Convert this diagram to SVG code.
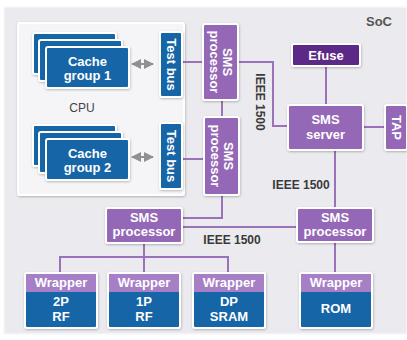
<svg xmlns="http://www.w3.org/2000/svg" width="407" height="340" viewBox="0 0 407 340">
<defs>
<filter id="sh" x="-20%" y="-20%" width="140%" height="140%">
<feDropShadow dx="0.5" dy="1" stdDeviation="1.2" flood-color="#000" flood-opacity="0.25"/>
</filter>
<marker id="ah" viewBox="0 0 10 10" refX="9" refY="5" markerWidth="5" markerHeight="5" orient="auto-start-reverse">
<path d="M0,0 L10,5 L0,10 Z" fill="#8f8f96"/>
</marker>
</defs>
<style>
.blue{fill:#1565a6;stroke:#fff;stroke-width:2}
.sms{fill:#9468b6;stroke:#fff;stroke-width:2}
.dark{fill:#5b2a86;stroke:#fff;stroke-width:2}
.wh{fill:#a67fc6}
.t{font-family:"Liberation Sans",Arial,sans-serif;font-weight:bold;font-size:13px;fill:#fff;text-anchor:middle}
.lbl{font-family:"Liberation Sans",Arial,sans-serif;font-weight:bold;font-size:12px;fill:#3a3a3a;text-anchor:middle}
.ln{fill:none;stroke:#9a72b8;stroke-width:2}
.ar{fill:none;stroke:#8f8f96;stroke-width:2}
</style>
<rect width="407" height="340" fill="#ffffff"/>
<g id="soc">
<rect x="4" y="7" width="403" height="327" fill="#ebeaef" stroke="#f7f7f9" stroke-width="1.5"/>
<text x="379" y="26" font-family="'Liberation Sans',Arial,sans-serif" font-weight="bold" font-size="13" fill="#555" text-anchor="middle">SoC</text>
</g>
<g id="cpu">
<rect x="18" y="23" width="166" height="172" rx="2" fill="#f5f5f7" stroke="#fff" stroke-width="2" filter="url(#sh)"/>
<text x="82" y="112" font-family="'Liberation Sans',Arial,sans-serif" font-size="12" fill="#444" text-anchor="middle">CPU</text>
</g>
<g id="connectors">
<line class="ar" x1="132" y1="64" x2="153" y2="64" marker-start="url(#ah)" marker-end="url(#ah)"/>
<line class="ar" x1="132" y1="157" x2="153" y2="157" marker-start="url(#ah)" marker-end="url(#ah)"/>
<line class="ln" x1="183" y1="62" x2="203" y2="62"/>
<line class="ln" x1="183" y1="159" x2="203" y2="159"/>
<line class="ln" x1="222" y1="100" x2="222" y2="117"/>
<polyline class="ln" points="238,62 273,62 273,126 288,126"/>
<line class="ln" x1="326" y1="66" x2="326" y2="105"/>
<line class="ln" x1="363" y1="127" x2="385" y2="127"/>
<line class="ln" x1="335" y1="150" x2="335" y2="208"/>
<polyline class="ln" points="222,195 222,218 182,218"/>
<line class="ln" x1="182" y1="227" x2="297" y2="227"/>
<line class="ln" x1="144" y1="243" x2="144" y2="273"/>
<polyline class="ln" points="60,273 60,257 228,257 228,273"/>
<line class="ln" x1="335" y1="242" x2="335" y2="273"/>
</g>
<g id="cache1">
<rect class="blue" x="33" y="33" width="83" height="41" rx="2" filter="url(#sh)"/>
<rect class="blue" x="39" y="40" width="83" height="41" rx="2" filter="url(#sh)"/>
<rect class="blue" x="46" y="47" width="83" height="41" rx="2" filter="url(#sh)"/>
<text class="t" x="87.5" y="66">Cache</text>
<text class="t" x="87.5" y="80">group 1</text>
</g>
<g id="cache2">
<rect class="blue" x="33" y="125" width="83" height="41" rx="2" filter="url(#sh)"/>
<rect class="blue" x="39" y="132" width="83" height="41" rx="2" filter="url(#sh)"/>
<rect class="blue" x="46" y="139" width="83" height="41" rx="2" filter="url(#sh)"/>
<text class="t" x="87.5" y="158">Cache</text>
<text class="t" x="87.5" y="172">group 2</text>
</g>
<g id="testbus1">
<rect class="blue" x="160" y="32" width="22" height="65" rx="2" filter="url(#sh)"/>
<text class="t" transform="translate(171,64.5) rotate(90)" y="4.5">Test bus</text>
</g>
<g id="testbus2">
<rect class="blue" x="160" y="123" width="22" height="66" rx="2" filter="url(#sh)"/>
<text class="t" transform="translate(171,156) rotate(90)" y="4.5">Test bus</text>
</g>
<g id="smsproc1">
<rect class="sms" x="203" y="24" width="35" height="76" rx="2" filter="url(#sh)"/>
<text class="t" transform="translate(220.5,62) rotate(90)" y="-2">SMS</text>
<text class="t" transform="translate(220.5,62) rotate(90)" y="11">processor</text>
</g>
<g id="smsproc2">
<rect class="sms" x="204" y="117" width="35" height="78" rx="2" filter="url(#sh)"/>
<text class="t" transform="translate(221.5,156) rotate(90)" y="-2">SMS</text>
<text class="t" transform="translate(221.5,156) rotate(90)" y="11">processor</text>
</g>
<text class="lbl" transform="translate(260,102) rotate(90)" y="4">IEEE 1500</text>
<g id="efuse">
<rect class="dark" x="292" y="44" width="68" height="22" rx="2" filter="url(#sh)"/>
<text class="t" x="326" y="60">Efuse</text>
</g>
<g id="smsserver">
<rect class="sms" x="288" y="105" width="75" height="45" rx="2" filter="url(#sh)"/>
<text class="t" x="325.5" y="124">SMS</text>
<text class="t" x="325.5" y="139">server</text>
</g>
<g id="tap">
<rect class="sms" x="385" y="105" width="22" height="45" rx="2" filter="url(#sh)"/>
<text class="t" transform="translate(396,127.5) rotate(90)" y="4.5">TAP</text>
</g>
<text class="lbl" x="301" y="189">IEEE 1500</text>
<text class="lbl" x="232" y="244">IEEE 1500</text>
<g id="smsproc3">
<rect class="sms" x="106" y="208" width="76" height="35" rx="2" filter="url(#sh)"/>
<text class="t" x="144" y="222">SMS</text>
<text class="t" x="144" y="236">processor</text>
</g>
<g id="smsproc4">
<rect class="sms" x="297" y="208" width="76" height="34" rx="2" filter="url(#sh)"/>
<text class="t" x="335" y="222">SMS</text>
<text class="t" x="335" y="236">processor</text>
</g>
<g id="wrap2p">
<rect x="25" y="273" width="72" height="55" rx="2" fill="#1565a6" stroke="#fff" stroke-width="2" filter="url(#sh)"/>
<rect class="wh" x="26" y="274" width="70" height="18"/>
<text class="t" x="61" y="287">Wrapper</text>
<text class="t" x="61" y="306">2P</text>
<text class="t" x="61" y="321">RF</text>
</g>
<g id="wrap1p">
<rect x="108" y="273" width="72" height="55" rx="2" fill="#1565a6" stroke="#fff" stroke-width="2" filter="url(#sh)"/>
<rect class="wh" x="109" y="274" width="70" height="18"/>
<text class="t" x="144" y="287">Wrapper</text>
<text class="t" x="144" y="306">1P</text>
<text class="t" x="144" y="321">RF</text>
</g>
<g id="wrapdp">
<rect x="193" y="273" width="72" height="55" rx="2" fill="#1565a6" stroke="#fff" stroke-width="2" filter="url(#sh)"/>
<rect class="wh" x="194" y="274" width="70" height="18"/>
<text class="t" x="229" y="287">Wrapper</text>
<text class="t" x="229" y="306">DP</text>
<text class="t" x="229" y="321">SRAM</text>
</g>
<g id="wraprom">
<rect x="300" y="273" width="72" height="55" rx="2" fill="#1565a6" stroke="#fff" stroke-width="2" filter="url(#sh)"/>
<rect class="wh" x="301" y="274" width="70" height="18"/>
<text class="t" x="336" y="287">Wrapper</text>
<text class="t" x="336" y="313">ROM</text>
</g>
</svg>
